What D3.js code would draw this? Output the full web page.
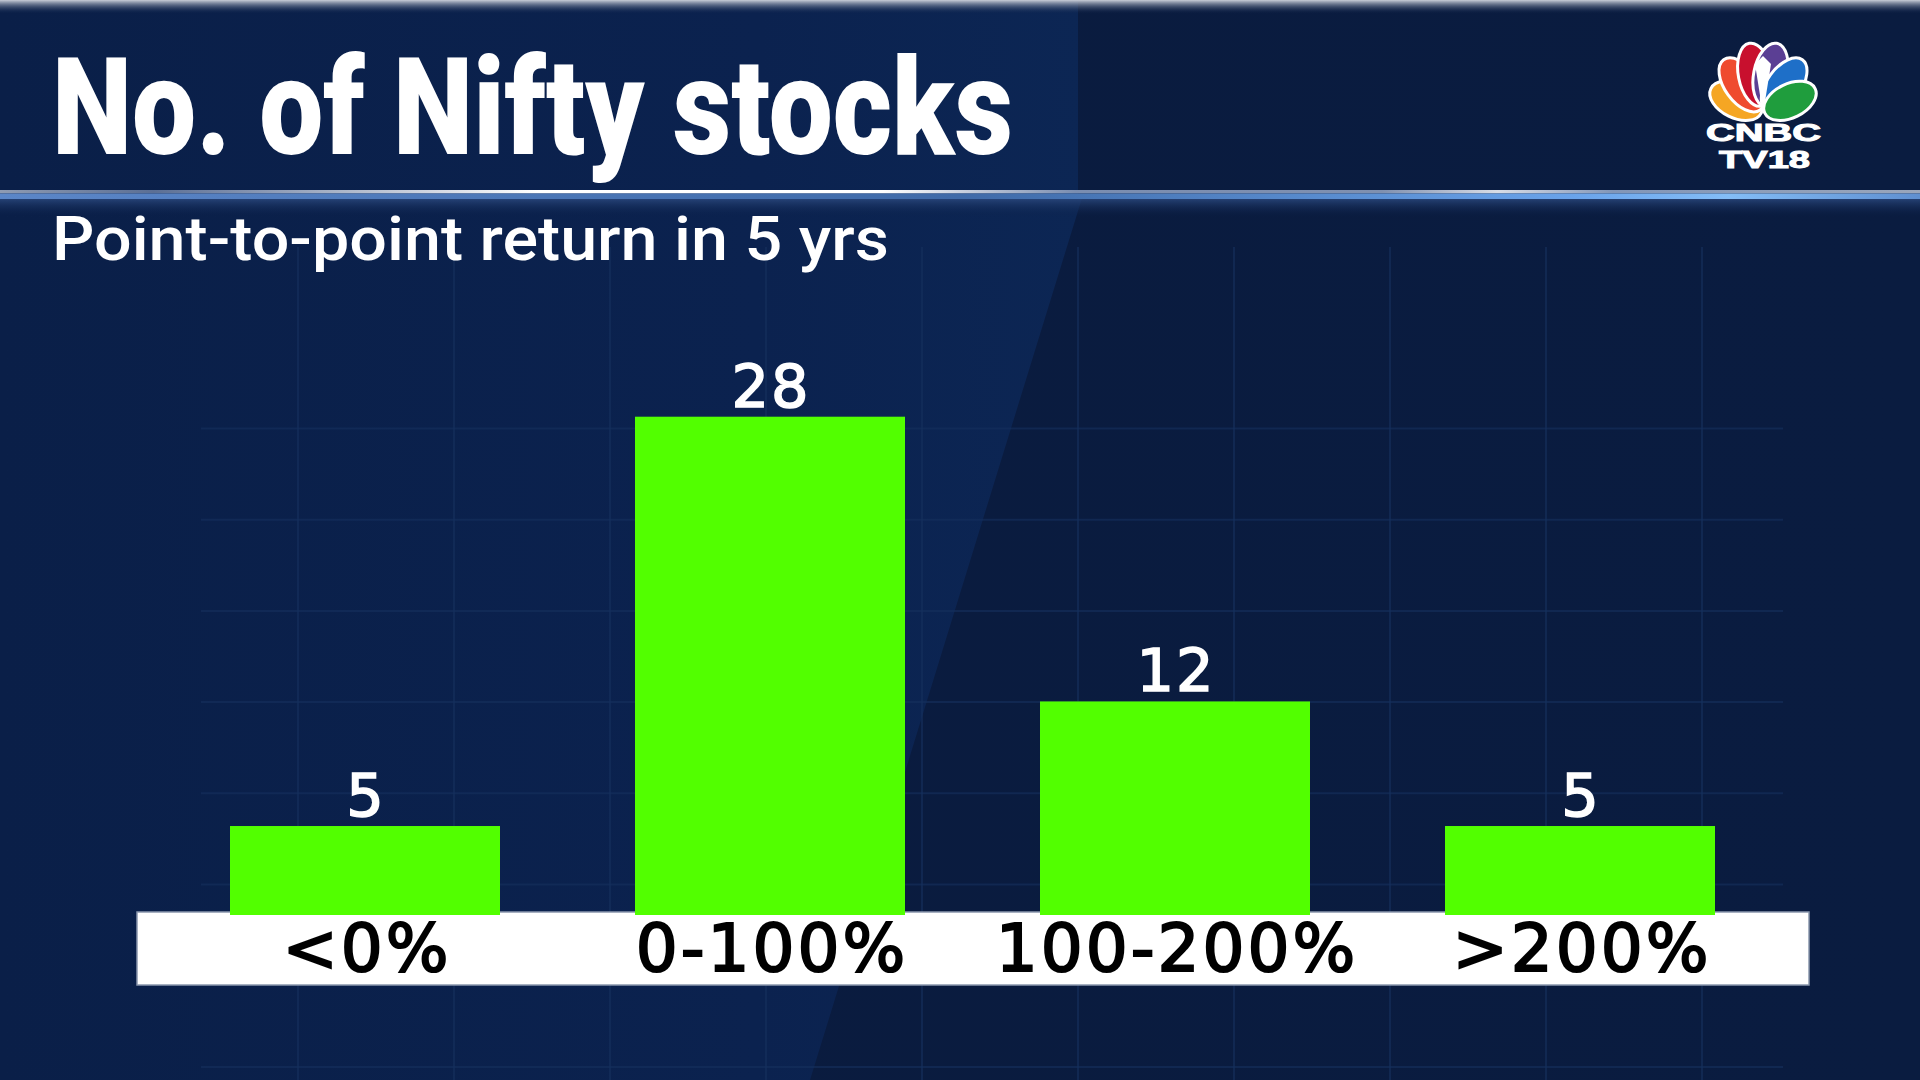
<!DOCTYPE html>
<html lang="en">
<head>
<meta charset="UTF-8">
<title>No. of Nifty stocks</title>
<script src="https://cdn.jsdelivr.net/npm/d3@7"></script>
<style>
  html, body { margin: 0; padding: 0; background: #0a1c40; overflow: hidden; }
  svg { display: block; }
</style>
</head>
<body>
<div id="graphDiv"></div>
<script>
// chart data
const categories = ["<0%", "0-100%", "100-200%", ">200%"];
const stockCounts = [5, 28, 12, 5];
const titleText = "No. of Nifty stocks";
const subtitleText = "Point-to-point return in 5 yrs";

const width = 1920, height = 1080;

const svg = d3.select("#graphDiv").append("svg")
  .attr("width", width).attr("height", height);

const defs = svg.append("defs");

// background: darker right side, slightly lighter slanted panel on the left
const bgLeft = defs.append("linearGradient").attr("id", "bgLeft")
  .attr("x1", 0).attr("y1", 0).attr("x2", 1).attr("y2", 0);
bgLeft.append("stop").attr("offset", "0%").attr("stop-color", "#0a1f48");
bgLeft.append("stop").attr("offset", "70%").attr("stop-color", "#0b224f");
bgLeft.append("stop").attr("offset", "100%").attr("stop-color", "#0c2654");
const bgRight = defs.append("linearGradient").attr("id", "bgRight")
  .attr("x1", 0).attr("y1", 0).attr("x2", 1).attr("y2", 0);
bgRight.append("stop").attr("offset", "0%").attr("stop-color", "#0a1b3e");
bgRight.append("stop").attr("offset", "100%").attr("stop-color", "#0a1c40");

svg.append("rect").attr("width", width).attr("height", height).attr("fill", "url(#bgRight)");
svg.append("path")
  .attr("d", "M0,0 L1078,0 L1078,198 L1082,198 L810,1080 L0,1080 Z")
  .attr("fill", "url(#bgLeft)");

// top light strip
const topStrip = defs.append("linearGradient").attr("id", "topStrip")
  .attr("x1", 0).attr("y1", 0).attr("x2", 0).attr("y2", 1);
topStrip.append("stop").attr("offset", "0%").attr("stop-color", "#c9ced8");
topStrip.append("stop").attr("offset", "100%").attr("stop-color", "#0b2049").attr("stop-opacity", 0);
svg.append("rect").attr("width", width).attr("height", 14).attr("fill", "url(#topStrip)");

// soft glow under the separator
const glow = defs.append("linearGradient").attr("id", "glow")
  .attr("x1", 0).attr("y1", 0).attr("x2", 0).attr("y2", 1);
glow.append("stop").attr("offset", "0%").attr("stop-color", "#2c4a80").attr("stop-opacity", 0.8);
glow.append("stop").attr("offset", "100%").attr("stop-color", "#0b2049").attr("stop-opacity", 0);
svg.append("rect").attr("x", 0).attr("y", 199).attr("width", width).attr("height", 18).attr("fill", "url(#glow)");

// separator line
const sepWhite = defs.append("linearGradient").attr("id", "sepWhite");
[[0, "#8e9bb3"], [0.08, "#5b6f95"], [0.28, "#ffffff"], [0.46, "#ffffff"], [0.56, "#7a8db0"],
 [0.72, "#7f90b0"], [0.78, "#d9dde6"], [0.84, "#8296b8"], [1, "#9aa6bb"]]
  .forEach(s => sepWhite.append("stop").attr("offset", s[0]).attr("stop-color", s[1]));
const sepBlue = defs.append("linearGradient").attr("id", "sepBlue");
[[0, "#5b86c8"], [0.5, "#3f6aa8"], [0.82, "#6aa3ea"], [0.9, "#84bdf7"], [1, "#5f8fd0"]]
  .forEach(s => sepBlue.append("stop").attr("offset", s[0]).attr("stop-color", s[1]));
svg.append("rect").attr("x", 0).attr("y", 190).attr("width", width).attr("height", 3.5).attr("fill", "url(#sepWhite)");
svg.append("rect").attr("x", 0).attr("y", 193.5).attr("width", width).attr("height", 5.5).attr("fill", "url(#sepBlue)");

// faint background grid
const grid = svg.append("g").attr("stroke", "#16305e").attr("stroke-opacity", 0.6).attr("stroke-width", 2);
d3.range(298, 1783, 156).forEach(x => {
  grid.append("line").attr("x1", x).attr("x2", x).attr("y1", 247).attr("y2", 1080);
});
d3.range(428.5, 1080, 91.2).forEach(y => {
  grid.append("line").attr("x1", 201).attr("x2", 1783).attr("y1", y).attr("y2", y);
});

// title + subtitle
svg.append("text")
  .attr("x", 52).attr("y", 154)
  .attr("font-family", "Roboto, 'Liberation Sans', sans-serif")
  .attr("font-weight", 900)
  .attr("font-size", 136)
  .attr("fill", "#ffffff")
  .attr("textLength", 961).attr("lengthAdjust", "spacingAndGlyphs")
  .text(titleText);

svg.append("text")
  .attr("x", 52).attr("y", 260)
  .attr("font-family", "Roboto, 'Liberation Sans', sans-serif")
  .attr("font-weight", 500)
  .attr("font-size", 61)
  .attr("fill", "#ffffff")
  .attr("textLength", 837).attr("lengthAdjust", "spacingAndGlyphs")
  .text(subtitleText);

// scales
const x = d3.scaleBand()
  .domain(categories)
  .range([162.5, 1782.5])
  .paddingInner(1 / 3)
  .paddingOuter(1 / 6);

const y = d3.scaleLinear()
  .domain([0, 28])
  .range([915, 416.7]);

// category band
svg.append("rect")
  .attr("x", 137).attr("y", 912)
  .attr("width", 1672).attr("height", 73)
  .attr("fill", "#ffffff")
  .attr("stroke", "#8a97ad").attr("stroke-width", 1.5);

// bars
const rows = categories.map((c, i) => ({ cat: c, value: stockCounts[i] }));

svg.append("g").selectAll("rect")
  .data(rows).enter()
  .append("rect")
  .attr("x", d => x(d.cat))
  .attr("y", d => y(d.value))
  .attr("width", x.bandwidth())
  .attr("height", d => y(0) - y(d.value))
  .attr("fill", "#52ff00");

// value labels
svg.append("g").selectAll("text")
  .data(rows).enter()
  .append("text")
  .attr("x", d => x(d.cat) + x.bandwidth() / 2 + 1)
  .attr("y", d => y(d.value) - 10)
  .attr("text-anchor", "middle")
  .attr("font-family", "'DejaVu Sans', sans-serif")
  .attr("font-size", 59)
  .attr("letter-spacing", 2)
  .attr("fill", "#ffffff")
  .attr("stroke", "#ffffff").attr("stroke-width", 1.6)
  .text(d => d.value);

// category labels
svg.append("g").selectAll("text")
  .data(rows).enter()
  .append("text")
  .attr("x", d => x(d.cat) + x.bandwidth() / 2 + 2)
  .attr("y", 971)
  .attr("text-anchor", "middle")
  .attr("font-family", "'DejaVu Sans', sans-serif")
  .attr("font-size", 66)
  .attr("letter-spacing", 3)
  .attr("fill", "#000000")
  .attr("stroke", "#000000").attr("stroke-width", 2)
  .text(d => d.cat);

// CNBC TV18 logo
const logo = svg.append("g").attr("transform", "translate(1763,114)");
const feathers = [
  { a: -64, c: "#f5a623", d: 30, len: 28 },
  { a: -36, c: "#ef4b2f", d: 36, len: 31 },
  { a: -11, c: "#c8102e", d: 40, len: 32 },
  { a: 11, c: "#5b3f94", d: 40, len: 32 },
  { a: 36, c: "#1e6fc8", d: 36, len: 31 },
  { a: 64, c: "#1f9d3d", d: 30, len: 28 }
];
feathers.forEach(f => {
  logo.append("ellipse")
    .attr("cx", 0).attr("cy", -f.d)
    .attr("rx", 17).attr("ry", f.len)
    .attr("transform", `rotate(${f.a})`)
    .attr("fill", f.c)
    .attr("stroke", "#ffffff").attr("stroke-width", 3);
});
logo.append("path")
  .attr("d", "M0,0 L-8,-50 L0,-58 L8,-50 Z")
  .attr("fill", "#ffffff");
svg.append("text")
  .attr("x", 1706).attr("y", 141)
  .attr("font-family", "'Liberation Sans', sans-serif")
  .attr("font-weight", 700).attr("font-size", 24)
  .attr("fill", "#ffffff")
  .attr("stroke", "#ffffff").attr("stroke-width", 1)
  .attr("textLength", 115).attr("lengthAdjust", "spacingAndGlyphs")
  .text("CNBC");
svg.append("text")
  .attr("x", 1719).attr("y", 168)
  .attr("font-family", "'Liberation Sans', sans-serif")
  .attr("font-weight", 700).attr("font-size", 24)
  .attr("fill", "#ffffff")
  .attr("stroke", "#ffffff").attr("stroke-width", 1)
  .attr("textLength", 91).attr("lengthAdjust", "spacingAndGlyphs")
  .text("TV18");
</script>
</body>
</html>
